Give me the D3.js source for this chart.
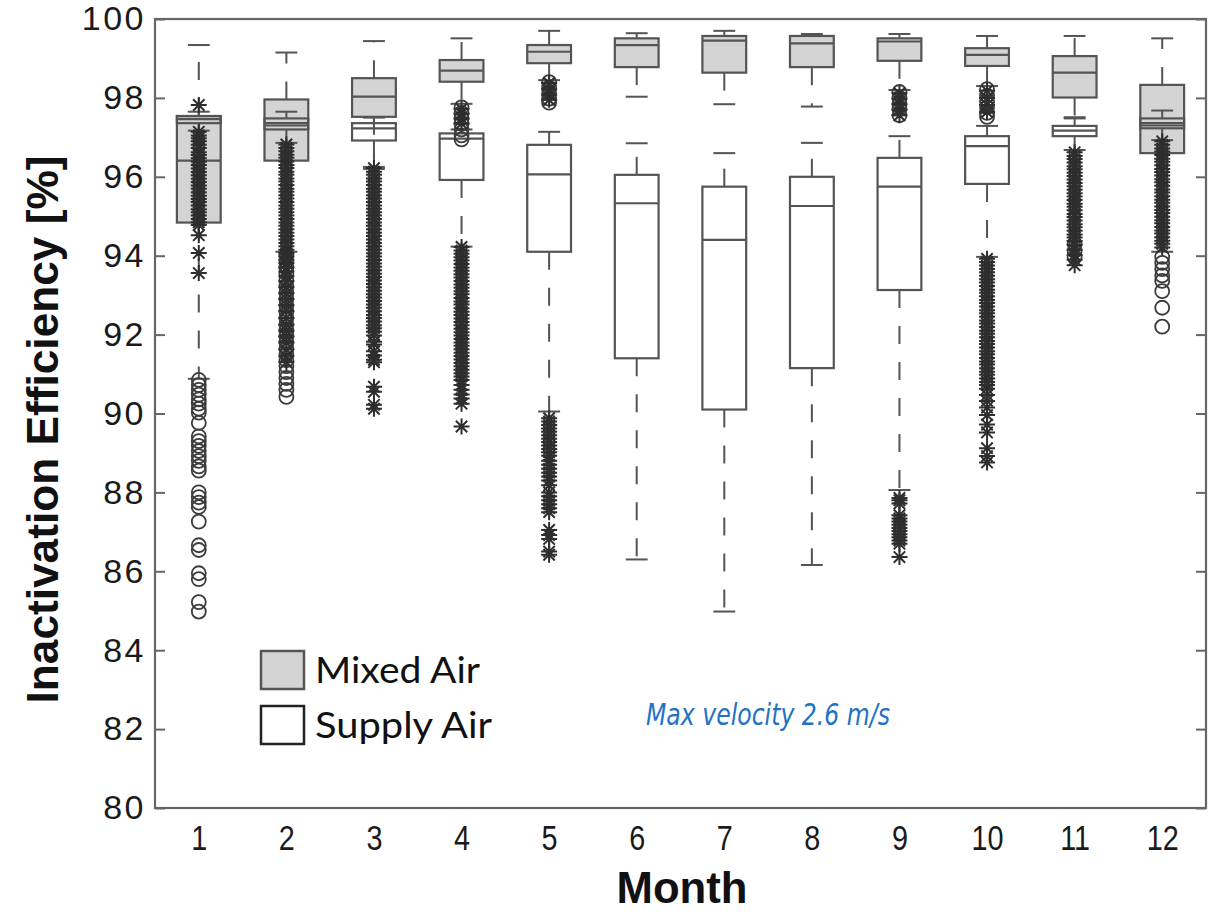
<!DOCTYPE html>
<html>
<head>
<meta charset="utf-8">
<script src="https://cdn.jsdelivr.net/npm/d3@7"></script>
<style>
  html, body { margin: 0; padding: 0; background: #ffffff; }
  svg { display: block; }
</style>
</head>
<body>
<svg id="chart" width="1220" height="912"></svg>
<script>
// ---------------- DATA ----------------
const months = [1, 2, 3, 4, 5, 6, 7, 8, 9, 10, 11, 12];
const yTicks = [80, 82, 84, 86, 88, 90, 92, 94, 96, 98, 100];

// Mixed Air (gray boxes)
const mixedWhiskerLow  = [90.88, 94.10, 96.20, 97.85, 98.45, 98.03, 97.84, 97.78, 98.20, 98.30, 97.51, 94.10];
const mixedQ1          = [94.84, 96.41, 97.52, 98.41, 98.88, 98.78, 98.64, 98.78, 98.94, 98.81, 98.01, 96.60];
const mixedMedian      = [96.41, 97.36, 98.03, 98.69, 99.17, 99.34, 99.45, 99.38, 99.43, 99.09, 98.64, 97.30];
const mixedQ3          = [97.54, 97.96, 98.50, 98.96, 99.34, 99.51, 99.57, 99.57, 99.51, 99.26, 99.06, 98.33];
const mixedWhiskerHigh = [99.34, 99.15, 99.44, 99.51, 99.70, 99.64, 99.70, 99.62, 99.62, 99.57, 99.57, 99.51];

// Supply Air (white boxes)
const supplyWhiskerLow  = [97.17, 96.86, 96.25, 94.23, 90.05, 86.30, 84.98, 86.16, 88.06, 93.97, 96.68, 96.93];
const supplyQ1          = [97.36, 97.20, 96.92, 95.92, 94.10, 91.40, 90.10, 91.15, 93.13, 95.82, 97.03, 97.23];
const supplyMedian      = [97.46, 97.30, 97.23, 96.97, 96.06, 95.33, 94.40, 95.26, 95.75, 96.78, 97.17, 97.36];
const supplyQ3          = [97.54, 97.48, 97.36, 97.10, 96.81, 96.05, 95.75, 96.00, 96.48, 97.03, 97.29, 97.48];
const supplyWhiskerHigh = [97.65, 97.65, 97.50, 97.20, 97.14, 96.85, 96.60, 96.86, 97.03, 97.29, 97.48, 97.68];

// Outliers: Mixed Air (circles)
const mixedOutliers = [
  [90.85, 90.72, 90.6, 90.48, 90.36, 90.25, 90.12, 90.02, 89.76, 89.42, 89.3, 89.18, 89.05, 88.92, 88.8, 88.66, 88.55, 88.0, 87.88, 87.74, 87.63, 87.26, 86.66, 86.54, 85.95, 85.8, 85.22, 84.98],
  [94.02, 93.86, 93.7, 93.55, 93.38, 93.22, 93.06, 92.9, 92.74, 92.58, 92.42, 92.26, 92.1, 91.95, 91.8, 91.65, 91.5, 91.35, 91.2, 91.05, 90.9, 90.75, 90.6, 90.42],
  [],
  [97.76, 97.62, 97.48, 97.34, 97.2, 97.05, 96.95],
  [98.4, 98.26, 98.12, 97.98, 97.88],
  [],
  [],
  [],
  [98.15, 98.0, 97.86, 97.72, 97.56],
  [98.22, 98.06, 97.9, 97.76, 97.62, 97.52],
  [94.3, 94.12, 93.96],
  [93.97, 93.82, 93.66, 93.5, 93.36, 93.1, 92.68, 92.2]
];

// Outliers: Supply Air (asterisks)
const supplyOutliers = [
  [97.82, 97.14, 97.05, 96.98, 96.9, 96.81, 96.73, 96.62, 96.55, 96.47, 96.38, 96.3, 96.21, 96.12, 96.04, 95.95, 95.87, 95.78, 95.7, 95.61, 95.52, 95.44, 95.36, 95.27, 95.18, 95.1, 95.02, 94.93, 94.85, 94.78, 94.52, 94.07, 93.56],
  [96.82, 96.73, 96.65, 96.56, 96.48, 96.39, 96.3, 96.22, 96.13, 96.05, 95.96, 95.88, 95.79, 95.7, 95.62, 95.53, 95.45, 95.36, 95.27, 95.19, 95.1, 95.02, 94.93, 94.84, 94.76, 94.67, 94.58, 94.5, 94.41, 94.32, 94.24, 94.15, 94.06, 93.98, 93.9, 93.81, 93.7, 93.6, 93.48, 93.35, 93.2, 93.05, 92.9, 92.75, 92.6, 92.42, 92.25, 92.1, 91.95, 91.8, 91.62, 91.45, 91.3],
  [96.22, 96.13, 96.05, 95.96, 95.88, 95.79, 95.7, 95.62, 95.53, 95.45, 95.36, 95.27, 95.19, 95.1, 95.02, 94.93, 94.84, 94.76, 94.67, 94.58, 94.5, 94.41, 94.32, 94.24, 94.15, 94.06, 93.98, 93.89, 93.8, 93.72, 93.63, 93.54, 93.46, 93.37, 93.28, 93.2, 93.11, 93.02, 92.94, 92.85, 92.76, 92.68, 92.59, 92.5, 92.42, 92.33, 92.24, 92.16, 92.07, 91.98, 91.82, 91.75, 91.58, 91.47, 91.36, 91.3, 90.68, 90.55, 90.22, 90.12],
  [97.72, 97.6, 97.48, 97.35, 94.22, 94.13, 94.05, 93.96, 93.88, 93.79, 93.7, 93.62, 93.53, 93.45, 93.36, 93.27, 93.19, 93.1, 93.02, 92.93, 92.84, 92.76, 92.67, 92.58, 92.5, 92.41, 92.32, 92.24, 92.15, 92.06, 91.98, 91.89, 91.8, 91.72, 91.63, 91.54, 91.46, 91.37, 91.28, 91.2, 91.11, 91.02, 90.94, 90.85, 90.72, 90.6, 90.48, 90.38, 90.25, 89.67],
  [98.38, 98.22, 98.08, 97.95, 89.88, 89.8, 89.71, 89.62, 89.54, 89.45, 89.36, 89.28, 89.19, 89.1, 89.02, 88.93, 88.8, 88.7, 88.6, 88.5, 88.4, 88.3, 88.18, 88.0, 87.9, 87.8, 87.7, 87.6, 87.5, 87.05, 86.92, 86.82, 86.5, 86.42],
  [],
  [],
  [],
  [98.12, 97.98, 97.84, 97.7, 97.56, 87.86, 87.8, 87.72, 87.42, 87.34, 87.26, 87.18, 87.1, 87.02, 86.94, 86.86, 86.78, 86.7, 86.36],
  [98.18, 98.0, 97.82, 97.64, 93.92, 93.84, 93.75, 93.66, 93.58, 93.49, 93.4, 93.32, 93.23, 93.14, 93.06, 92.97, 92.88, 92.8, 92.71, 92.62, 92.54, 92.45, 92.36, 92.28, 92.19, 92.1, 92.02, 91.93, 91.84, 91.76, 91.67, 91.58, 91.5, 91.41, 91.32, 91.24, 91.15, 91.06, 90.98, 90.89, 90.8, 90.72, 90.63, 90.47, 90.32, 90.15, 89.96, 89.72, 89.52, 89.12, 88.92, 88.76],
  [96.62, 96.53, 96.45, 96.36, 96.27, 96.19, 96.1, 96.02, 95.93, 95.84, 95.76, 95.67, 95.58, 95.5, 95.41, 95.32, 95.24, 95.15, 95.06, 94.98, 94.89, 94.8, 94.72, 94.63, 94.54, 94.46, 94.37, 94.28, 94.15, 94.02, 93.9, 93.76],
  [96.9, 96.81, 96.72, 96.64, 96.55, 96.46, 96.38, 96.29, 96.2, 96.12, 96.03, 95.94, 95.86, 95.77, 95.68, 95.6, 95.51, 95.42, 95.34, 95.25, 95.16, 95.08, 94.99, 94.9, 94.82, 94.73, 94.64, 94.56, 94.47, 94.38, 94.3, 94.21]
];

const seriesNames = ["Mixed Air", "Supply Air"];
const yTitle = "Inactivation Efficiency [%]";
const xTitle = "Month";
const note = "Max velocity 2.6 m/s";

// ---------------- LAYOUT ----------------
const svg = d3.select("#chart");
const plot = { left: 155, right: 1206, top: 19, bottom: 808 };
const x = d3.scaleLinear().domain([0.5, 12.5]).range([plot.left, plot.right]);
const y = d3.scaleLinear().domain([80, 100]).range([plot.bottom, plot.top]);
const boxW = x(1.25) - x(1);     // half box width
const capW = x(1.125) - x(1);    // half cap width
const lineColor = "#545454";
const mixedFill = "#d4d4d4";
const dash = "18,18";

function buildStats(lo, q1, med, q3, hi, outs) {
  return months.map((m, i) => ({ m, lo: lo[i], q1: q1[i], med: med[i], q3: q3[i], hi: hi[i], outs: outs[i] }));
}
const mixed = buildStats(mixedWhiskerLow, mixedQ1, mixedMedian, mixedQ3, mixedWhiskerHigh, mixedOutliers);
const supply = buildStats(supplyWhiskerLow, supplyQ1, supplyMedian, supplyQ3, supplyWhiskerHigh, supplyOutliers);

// Frame
svg.append("rect")
  .attr("x", plot.left).attr("y", plot.top)
  .attr("width", plot.right - plot.left).attr("height", plot.bottom - plot.top)
  .attr("fill", "#fff").attr("stroke", "#666").attr("stroke-width", 2.2);

// Axes
const yAxisL = svg.append("g").attr("transform", `translate(${plot.left},0)`)
  .call(d3.axisLeft(y).tickValues(yTicks).tickSize(-10).tickPadding(9).tickFormat(d3.format("d")));
yAxisL.select(".domain").remove();
yAxisL.selectAll(".tick line").attr("stroke", "#666").attr("stroke-width", 2);
yAxisL.selectAll(".tick text")
  .attr("font-family", "'Liberation Sans', Arial, sans-serif")
  .attr("font-size", 34).attr("fill", "#1a1a1a")
  .attr("letter-spacing", 2.5);

const yAxisR = svg.append("g").attr("transform", `translate(${plot.right},0)`)
  .call(d3.axisRight(y).tickValues(yTicks).tickSize(-10).tickFormat(""));
yAxisR.select(".domain").remove();
yAxisR.selectAll(".tick line").attr("stroke", "#666").attr("stroke-width", 2);

const xAxis = svg.append("g").attr("transform", `translate(0,${plot.bottom})`)
  .call(d3.axisBottom(x).tickValues(months).tickSize(0).tickPadding(16).tickFormat(d3.format("d")));
xAxis.select(".domain").remove();
xAxis.selectAll(".tick text")
  .attr("font-family", "'Liberation Sans', Arial, sans-serif")
  .attr("font-size", 36).attr("fill", "#1a1a1a")
  .attr("transform", "scale(0.8,1)");

// Titles
svg.append("text")
  .attr("transform", `translate(58,${(plot.top + plot.bottom) / 2 + 16}) rotate(-90)`)
  .attr("text-anchor", "middle")
  .attr("font-family", "'Liberation Sans', Arial, sans-serif")
  .attr("font-weight", "bold").attr("font-size", 44).attr("fill", "#111")
  .attr("textLength", 548).attr("lengthAdjust", "spacingAndGlyphs")
  .text(yTitle);

svg.append("text")
  .attr("x", 682).attr("y", 903)
  .attr("text-anchor", "middle")
  .attr("font-family", "'Liberation Sans', Arial, sans-serif")
  .attr("font-weight", "bold").attr("font-size", 44).attr("fill", "#111")
  .attr("textLength", 131).attr("lengthAdjust", "spacingAndGlyphs")
  .text(xTitle);

// ---------------- BOXES ----------------
function drawSeries(data, filled, cls) {
  const g = svg.append("g").attr("class", cls);
  const grp = g.selectAll("g.bx").data(data).join("g").attr("class", "bx");
  grp.append("line")
    .attr("x1", d => x(d.m)).attr("x2", d => x(d.m))
    .attr("y1", d => y(d.q3)).attr("y2", d => y(d.hi))
    .attr("stroke", lineColor).attr("stroke-width", 2).attr("stroke-dasharray", dash);
  grp.append("line")
    .attr("x1", d => x(d.m)).attr("x2", d => x(d.m))
    .attr("y1", d => y(d.q1)).attr("y2", d => y(d.lo))
    .attr("stroke", lineColor).attr("stroke-width", 2).attr("stroke-dasharray", dash);
  grp.append("line")
    .attr("x1", d => x(d.m) - capW).attr("x2", d => x(d.m) + capW)
    .attr("y1", d => y(d.hi)).attr("y2", d => y(d.hi))
    .attr("stroke", lineColor).attr("stroke-width", 2);
  grp.append("line")
    .attr("x1", d => x(d.m) - capW).attr("x2", d => x(d.m) + capW)
    .attr("y1", d => y(d.lo)).attr("y2", d => y(d.lo))
    .attr("stroke", lineColor).attr("stroke-width", 2);
  grp.append("rect")
    .attr("x", d => x(d.m) - boxW).attr("width", 2 * boxW)
    .attr("y", d => y(d.q3)).attr("height", d => y(d.q1) - y(d.q3))
    .attr("fill", filled ? mixedFill : "none")
    .attr("stroke", lineColor).attr("stroke-width", 2.2);
  grp.append("line")
    .attr("x1", d => x(d.m) - boxW).attr("x2", d => x(d.m) + boxW)
    .attr("y1", d => y(d.med)).attr("y2", d => y(d.med))
    .attr("stroke", lineColor).attr("stroke-width", 2.2);
}
drawSeries(mixed, true, "mixed");
drawSeries(supply, false, "supply");

// ---------------- OUTLIERS ----------------
const mixedPts = mixed.flatMap(d => d.outs.map(v => ({ m: d.m, v })));
const supplyPts = supply.flatMap(d => d.outs.map(v => ({ m: d.m, v })));

svg.append("g").selectAll("circle").data(mixedPts).join("circle")
  .attr("cx", d => x(d.m)).attr("cy", d => y(d.v)).attr("r", 7)
  .attr("fill", "none").attr("stroke", "#3c3c3c").attr("stroke-width", 1.8);

const ast = "M-8,0H8M0,-8V8M-5.7,-5.7L5.7,5.7M-5.7,5.7L5.7,-5.7";
svg.append("g").selectAll("path").data(supplyPts).join("path")
  .attr("transform", d => `translate(${x(d.m)},${y(d.v)})`)
  .attr("d", ast)
  .attr("fill", "none").attr("stroke", "#2e2e2e").attr("stroke-width", 2);

// ---------------- LEGEND ----------------
const legend = [
  { name: seriesNames[0], fill: mixedFill, stroke: "#555", y: 651 },
  { name: seriesNames[1], fill: "#fff", stroke: "#222", y: 706 }
];
const lg = svg.append("g").selectAll("g").data(legend).join("g");
lg.append("rect")
  .attr("x", 261).attr("y", d => d.y).attr("width", 43).attr("height", 38)
  .attr("fill", d => d.fill).attr("stroke", d => d.stroke).attr("stroke-width", 2.5);
lg.append("text")
  .attr("x", 315).attr("y", d => d.y + 32)
  .attr("font-family", "Lato, 'Open Sans', sans-serif")
  .attr("font-size", 36).attr("fill", "#111")
  .attr("textLength", (d, i) => i === 0 ? 165 : 177).attr("lengthAdjust", "spacingAndGlyphs")
  .text(d => d.name);

// Note
svg.append("text")
  .attr("x", 646).attr("y", 725)
  .attr("font-family", "'Liberation Sans Narrow', 'DejaVu Sans Condensed', Roboto, sans-serif")
  .attr("font-style", "italic").attr("font-size", 30).attr("fill", "#1f72c4")
  .attr("textLength", 244).attr("lengthAdjust", "spacingAndGlyphs")
  .text(note);
</script>
</body>
</html>
